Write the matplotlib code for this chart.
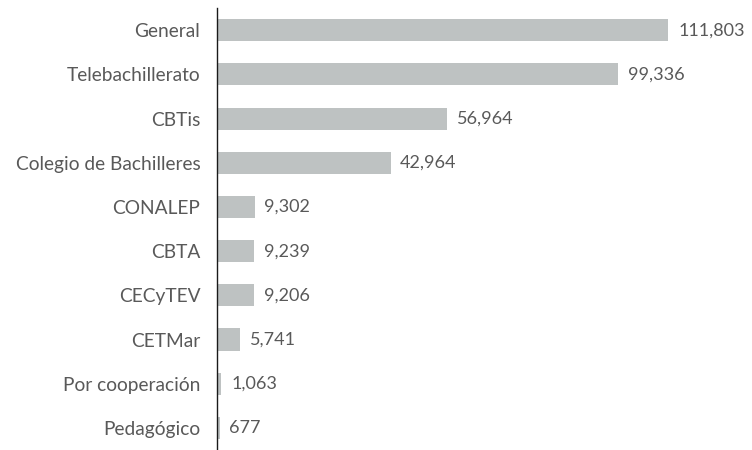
import matplotlib.pyplot as plt

categories = ["General", "Telebachillerato", "CBTis", "Colegio de Bachilleres",
              "CONALEP", "CBTA", "CECyTEV", "CETMar", "Por cooperación", "Pedagógico"]
values = [111803, 99336, 56964, 42964, 9302, 9239, 9206, 5741, 1063, 677]

bar_color = "#BEC2C2"
text_color = "#595959"

plt.rcParams["font.family"] = ["Lato", "DejaVu Sans"]

fig = plt.figure(figsize=(7.52, 4.5), dpi=100)
ax = fig.add_axes([0.2886, 0.0, 0.698, 0.982])

y = list(range(len(categories)))
ax.barh(y, values, height=0.5, color=bar_color)
ax.set_ylim(len(categories) - 0.5, -0.5)
ax.set_xlim(0, 130000)

for yi, v in zip(y, values):
    ax.annotate(f"{v:,}", (v, yi), xytext=(7, 0), textcoords="offset points",
                va="center", ha="left", fontsize=13, color=text_color)

ax.set_yticks(y)
ax.set_yticklabels(categories, fontsize=13.8, color=text_color)
ax.tick_params(axis="y", length=0, pad=12)
ax.set_xticks([])

for s in ["top", "right", "bottom"]:
    ax.spines[s].set_visible(False)
ax.spines["left"].set_color("#1a1a1a")
ax.spines["left"].set_linewidth(1.0)

fig.savefig("out.png", dpi=100)
